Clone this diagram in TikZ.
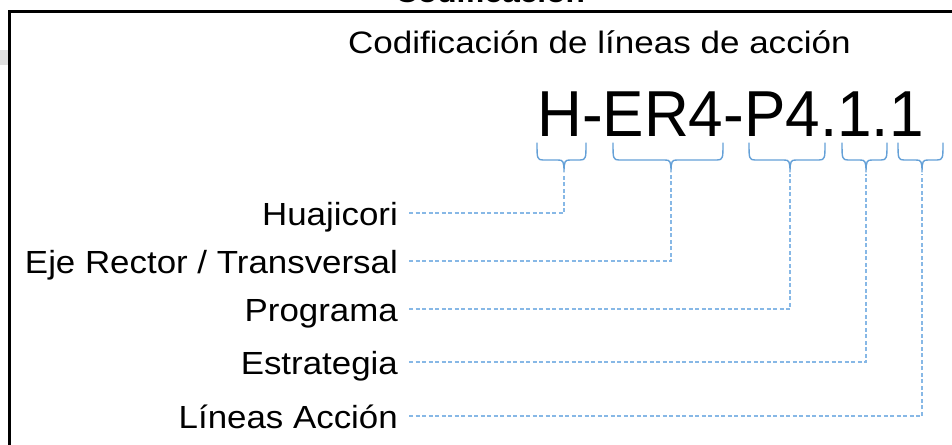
\documentclass[tikz,border=0pt]{standalone}
\usepackage{fontspec}
\setmainfont{Liberation Sans}
\newfontfamily\labfont{Liberation Sans}[FakeStretch=1.09]
\newfontfamily\titfont{Liberation Sans}[FakeStretch=1.13]
\newfontfamily\codefont{Liberation Sans}[FakeStretch=0.955]
\definecolor{bracecol}{RGB}{100,160,215}
\definecolor{dashcol}{RGB}{135,184,230}
\definecolor{stripcol}{RGB}{224,224,224}
\tikzset{
  frameline/.style={line width=2.8pt, line join=miter, black},
  topbold/.style={inner sep=0pt, font=\titfont\bfseries\fontsize{28}{30}\selectfont},
  titletext/.style={inner sep=0pt, font=\titfont\fontsize{31}{34}\selectfont},
  codetext/.style={inner sep=0pt, font=\codefont\fontsize{65}{70}\selectfont},
  labtext/.style={inner sep=0pt, anchor=base east, font=\labfont\fontsize{32}{36}\selectfont},
  bracestyle/.style={draw=bracecol, line width=1.4pt, line cap=round, line join=round},
  dashline/.style={draw=dashcol, line width=1.2pt, dash pattern=on 4pt off 2.5pt}
}
\begin{document}
\begin{tikzpicture}[x=1pt,y=-1pt]
\useasboundingbox (0,0) rectangle (952,444);
\fill[stripcol] (0,50) rectangle (8,65);
\draw[frameline] (960,11.3) -- (9.3,11.3) -- (9.3,450);
\node[topbold, anchor=base] (top) at (490,2.7) {Codificación};
\node[titletext, anchor=base west] (title) at (348,54) {Codificación de líneas de acción};
\node[codetext, anchor=base west] (code) at (537,136) {H-ER4-P4.1.1};
% braces
\foreach \a/\b/\c/\n in {537/586/564/1,613/723/671/2,749/825/790/3,842/887/866/4,898/943/922/5}{
  \draw[bracestyle] (\a,143) .. controls (\a,158) and (\a,160) .. (\a+6,160)
    -- (\c-6,160) .. controls (\c-1,160) and (\c,161) .. (\c,172)
    .. controls (\c,161) and (\c+1,160) .. (\c+6,160)
    -- (\b-6,160) .. controls (\b,160) and (\b,158) .. (\b,143);
  \coordinate (t\n) at (\c,174);
}
% labels
\node[labtext] (l1) at (398,225) {Huajicori};
\node[labtext] (l2) at (398,273) {Eje Rector / Transversal};
\node[labtext] (l3) at (398,321) {Programa};
\node[labtext] (l4) at (398,374) {Estrategia};
\node[labtext] (l5) at (398,428) {Líneas Acción};
% line starts
\coordinate (h1) at (409,213);
\coordinate (h2) at (409,261);
\coordinate (h3) at (409,309);
\coordinate (h4) at (409,362);
\coordinate (h5) at (409,416);
\foreach \n in {1,...,5}{
  \draw[dashline] (h\n) -| (t\n);
}
\end{tikzpicture}
\end{document}
